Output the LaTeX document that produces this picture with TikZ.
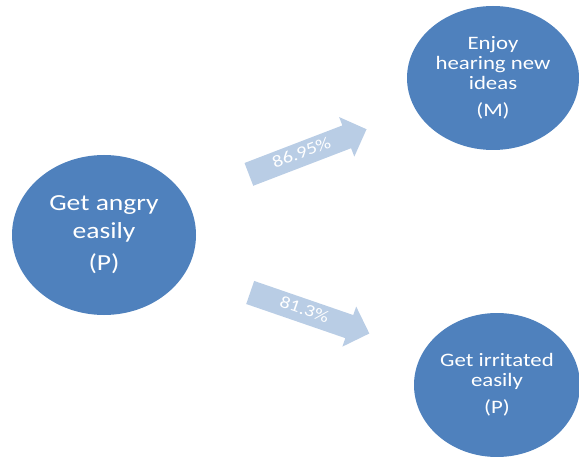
\documentclass[tikz,border=0pt]{standalone}
\usepackage{fontspec}
\setmainfont[FakeStretch=1.2]{Carlito}
\usetikzlibrary{shapes.geometric,shapes.arrows}

\definecolor{azul}{HTML}{4F81BD}
\definecolor{azulclaro}{HTML}{B9CDE5}

\tikzset{
  rasgo/.style={ellipse, fill=azul, text=white, align=center, inner sep=0pt},
  flecha/.style={single arrow, fill=azulclaro, text=white, inner sep=0pt,
    single arrow head extend=9pt, minimum height=126pt,
    text height=12pt, text depth=4pt, inner ysep=4pt,
    font=\fontsize{17}{17}\selectfont}
}

\begin{document}
\begin{tikzpicture}[x=1pt, y=1pt]

            \useasboundingbox (0,0) rectangle (579,456);

            % Elipses
            \node[rasgo, minimum width=184pt, minimum height=160pt,
                  font=\fontsize{23}{28}\selectfont] (enojo) at (104,221)
                  {Get angry\\easily\\[4pt](P)};
            \node[rasgo, minimum width=172pt, minimum height=144pt,
                  font=\fontsize{19}{20}\selectfont] (ideas) at (493,378)
                  {Enjoy\\hearing new\\ideas\\[7pt](M)};
            \node[rasgo, minimum width=166pt, minimum height=144pt,
                  font=\fontsize{19}{20}\selectfont] (irrita) at (497,71)
                  {Get irritated\\easily\\[7pt](P)};

            % Flechas
            \node[flecha, rotate=21] (arriba) at (302,302) {86.95\%};
            \node[flecha, rotate=-19] (abajo) at (304,145) {81.3\%};
        \end{tikzpicture}
\end{document}
